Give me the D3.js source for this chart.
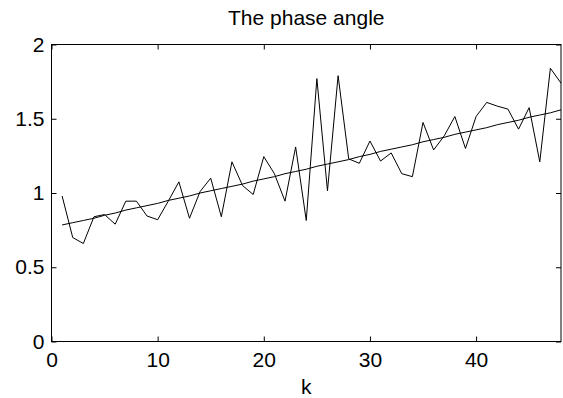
<!DOCTYPE html>
<html>
<head>
<meta charset="utf-8">
<script src="https://cdn.jsdelivr.net/npm/d3@7"></script>
<style>
  body { margin: 0; background: #fff; }
  text { font-family: "Liberation Sans", Arial, Helvetica, sans-serif; fill: #000; }
</style>
</head>
<body>
<div id="chart"></div>
<script>
// k = 1..48
var kValues = d3.range(1, 49);

// measured phase angle (noisy)
var phase = [0.98, 0.70, 0.66, 0.84, 0.855, 0.79, 0.945, 0.945, 0.845, 0.82,
             0.945, 1.075, 0.83, 1.01, 1.10, 0.84, 1.21, 1.05, 0.99, 1.245,
             1.13, 0.945, 1.31, 0.815, 1.77, 1.015, 1.79, 1.23, 1.20, 1.35,
             1.215, 1.27, 1.13, 1.11, 1.475, 1.29, 1.385, 1.515, 1.30, 1.515,
             1.61, 1.585, 1.565, 1.43, 1.575, 1.21, 1.84, 1.74];

// fitted trend
var trend = [0.785, 0.80, 0.815, 0.83, 0.85, 0.865, 0.885, 0.90, 0.915, 0.93,
             0.95, 0.965, 0.98, 1.00, 1.015, 1.03, 1.045, 1.06, 1.08, 1.095,
             1.11, 1.13, 1.145, 1.16, 1.18, 1.195, 1.21, 1.225, 1.245, 1.26,
             1.28, 1.295, 1.31, 1.325, 1.345, 1.36, 1.375, 1.395, 1.41, 1.425,
             1.44, 1.46, 1.475, 1.49, 1.51, 1.525, 1.54, 1.56];

var xTicks = [0, 10, 20, 30, 40];
var yTicks = [0, 0.5, 1, 1.5, 2];

var width = 563,
    height = 398,
    margin = {top: 44.5, right: 2, bottom: 56.5, left: 51.5};

var svg = d3.select("#chart").append("svg")
    .attr("width", width)
    .attr("height", height);

var x = d3.scaleLinear().domain([0, 48]).range([margin.left, width - margin.right]);
var y = d3.scaleLinear().domain([0, 2]).range([height - margin.bottom, margin.top]);

// axes, matlab style: ticks point inward
var fmt = function(d) { return String(d); };

svg.append("g")
    .attr("transform", "translate(0," + y(0) + ")")
    .call(d3.axisBottom(x).tickValues(xTicks).tickFormat(fmt).tickSizeInner(-5).tickSizeOuter(0).tickPadding(11))
    .call(function(g) { g.select(".domain").remove(); });

svg.append("g")
    .attr("transform", "translate(" + x(0) + ",0)")
    .call(d3.axisLeft(y).tickValues(yTicks).tickFormat(fmt).tickSizeInner(-5).tickSizeOuter(0).tickPadding(7))
    .call(function(g) { g.select(".domain").remove(); });

svg.append("g")
    .attr("transform", "translate(0," + y(2) + ")")
    .call(d3.axisTop(x).tickValues(xTicks).tickFormat("").tickSizeInner(-5).tickSizeOuter(0))
    .call(function(g) { g.select(".domain").remove(); });

svg.append("g")
    .attr("transform", "translate(" + x(48) + ",0)")
    .call(d3.axisRight(y).tickValues(yTicks).tickFormat("").tickSizeInner(-5).tickSizeOuter(0))
    .call(function(g) { g.select(".domain").remove(); });

svg.selectAll(".tick text")
    .style("font-size", "21px")
    .style("font-family", "'Liberation Sans', Arial, sans-serif");

svg.selectAll(".tick line").attr("stroke", "#000");

// box
svg.append("rect")
    .attr("x", x(0))
    .attr("y", y(2))
    .attr("width", x(48) - x(0))
    .attr("height", y(0) - y(2))
    .attr("fill", "none")
    .attr("stroke", "#000")
    .attr("stroke-width", 1);

var line = d3.line()
    .x(function(d) { return x(d.k); })
    .y(function(d) { return y(d.v); });

var phaseData = kValues.map(function(k, i) { return {k: k, v: phase[i]}; });
var trendData = kValues.map(function(k, i) { return {k: k, v: trend[i]}; });

svg.append("path")
    .datum(trendData)
    .attr("d", line)
    .attr("fill", "none")
    .attr("stroke", "#000")
    .attr("stroke-width", 1);

svg.append("path")
    .datum(phaseData)
    .attr("d", line)
    .attr("fill", "none")
    .attr("stroke", "#000")
    .attr("stroke-width", 1);

// title
svg.append("text")
    .attr("x", (x(0) + x(48)) / 2)
    .attr("y", 25)
    .attr("text-anchor", "middle")
    .style("font-size", "21px")
    .text("The phase angle");

// x label
svg.append("text")
    .attr("x", (x(0) + x(48)) / 2)
    .attr("y", 394)
    .attr("text-anchor", "middle")
    .style("font-size", "21px")
    .text("k");
</script>
</body>
</html>
